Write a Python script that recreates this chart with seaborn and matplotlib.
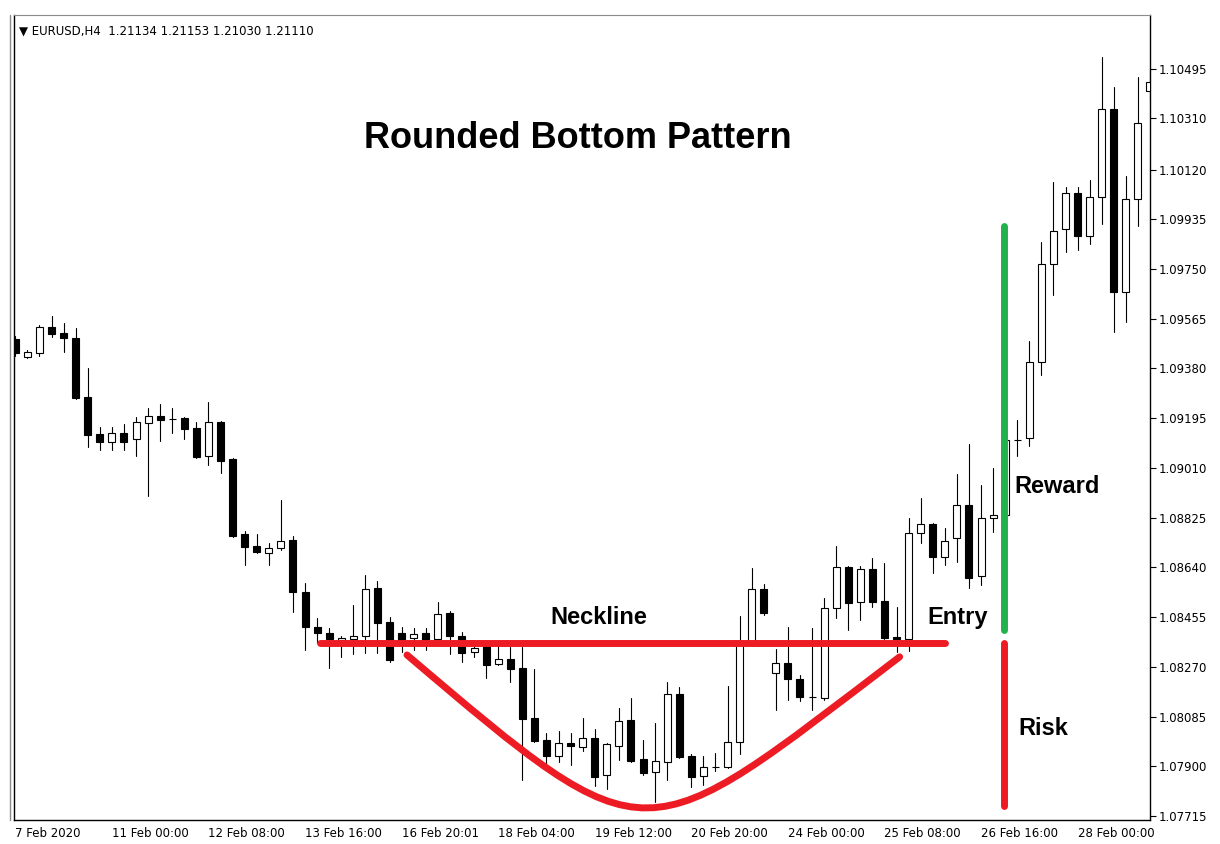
import numpy as np
import pandas as pd
import matplotlib
matplotlib.use("Agg")
import matplotlib.pyplot as plt
import seaborn as sns
from matplotlib.path import Path
from matplotlib.patches import PathPatch

# EURUSD H4 candles
opens = [1.09489, 1.09422, 1.09437, 1.09534, 1.09512, 1.09493, 1.09274, 1.09136, 1.09106, 1.09140,
         1.09117, 1.09177, 1.09203, 1.09192, 1.09196, 1.09158, 1.09054, 1.09181, 1.09043, 1.08764,
         1.08719, 1.08693, 1.08712, 1.08742, 1.08548, 1.08418, 1.08396, 1.08370, 1.08373, 1.08385,
         1.08563, 1.08437, 1.08396, 1.08377, 1.08396, 1.08373, 1.08470, 1.08385, 1.08325, 1.08359,
         1.08280, 1.08299, 1.08266, 1.08080, 1.07998, 1.07938, 1.07987, 1.07972, 1.08005, 1.07868,
         1.07975, 1.08072, 1.07927, 1.07879, 1.07916, 1.08169, 1.07938, 1.07864, 1.07897, 1.07897,
         1.07990, 1.08351, 1.08559, 1.08247, 1.08284, 1.08225, 1.08158, 1.08154, 1.08489, 1.08641,
         1.08511, 1.08634, 1.08515, 1.08381, 1.08373, 1.08768, 1.08801, 1.08678, 1.08749, 1.08872,
         1.08608, 1.08824, 1.08835, 1.09114, 1.09121, 1.09404, 1.09768, 1.09899, 1.10033, 1.09873,
         1.10018, 1.10345, 1.09664, 1.10010, 1.10412]
highs = [1.09501, 1.09448, 1.09541, 1.09575, 1.09549, 1.09530, 1.09382, 1.09162, 1.09162, 1.09173,
         1.09199, 1.09233, 1.09248, 1.09233, 1.09199, 1.09181, 1.09255, 1.09184, 1.09047, 1.08775,
         1.08764, 1.08731, 1.08891, 1.08757, 1.08582, 1.08452, 1.08414, 1.08385, 1.08500, 1.08611,
         1.08589, 1.08455, 1.08418, 1.08414, 1.08414, 1.08511, 1.08478, 1.08399, 1.08362, 1.08370,
         1.08351, 1.08344, 1.08344, 1.08262, 1.08024, 1.08031, 1.08024, 1.08080, 1.08039, 1.07987,
         1.08117, 1.08154, 1.07998, 1.08061, 1.08213, 1.08195, 1.07946, 1.07938, 1.07949, 1.08199,
         1.08459, 1.08638, 1.08578, 1.08336, 1.08418, 1.08240, 1.08414, 1.08526, 1.08719, 1.08645,
         1.08645, 1.08675, 1.08656, 1.08492, 1.08824, 1.08898, 1.08805, 1.08786, 1.08987, 1.09099,
         1.08946, 1.09010, 1.09129, 1.09188, 1.09482, 1.09850, 1.10073, 1.10055, 1.10055, 1.10081,
         1.10538, 1.10427, 1.10096, 1.10464, 1.10490]
lows = [1.09426, 1.09419, 1.09426, 1.09497, 1.09441, 1.09266, 1.09088, 1.09077, 1.09077, 1.09077,
        1.09054, 1.08905, 1.09110, 1.09140, 1.09117, 1.09047, 1.09021, 1.08991, 1.08753, 1.08649,
        1.08693, 1.08649, 1.08705, 1.08474, 1.08333, 1.08359, 1.08266, 1.08306, 1.08318, 1.08321,
        1.08321, 1.08288, 1.08325, 1.08333, 1.08333, 1.08370, 1.08318, 1.08288, 1.08306, 1.08228,
        1.08277, 1.08213, 1.07849, 1.07990, 1.07905, 1.07916, 1.07905, 1.07957, 1.07827, 1.07815,
        1.07923, 1.07916, 1.07868, 1.07767, 1.07849, 1.07931, 1.07823, 1.07830, 1.07882, 1.07894,
        1.07946, 1.08347, 1.08463, 1.08109, 1.08147, 1.08143, 1.08109, 1.08147, 1.08452, 1.08407,
        1.08444, 1.08492, 1.08373, 1.08325, 1.08329, 1.08731, 1.08619, 1.08649, 1.08660, 1.08563,
        1.08574, 1.08771, 1.08827, 1.09054, 1.09091, 1.09356, 1.09653, 1.09813, 1.09821, 1.09843,
        1.09917, 1.09515, 1.09553, 1.09910, 1.10379]
closes = [1.09437, 1.09441, 1.09534, 1.09508, 1.09493, 1.09270, 1.09132, 1.09106, 1.09140, 1.09106,
          1.09181, 1.09203, 1.09188, 1.09192, 1.09155, 1.09050, 1.09181, 1.09036, 1.08757, 1.08716,
          1.08697, 1.08712, 1.08738, 1.08548, 1.08418, 1.08396, 1.08373, 1.08377, 1.08385, 1.08559,
          1.08433, 1.08295, 1.08351, 1.08392, 1.08366, 1.08466, 1.08385, 1.08321, 1.08340, 1.08277,
          1.08299, 1.08262, 1.08076, 1.07994, 1.07938, 1.07987, 1.07975, 1.08005, 1.07860, 1.07983,
          1.08068, 1.07920, 1.07875, 1.07920, 1.08169, 1.07934, 1.07860, 1.07897, 1.07897, 1.07990,
          1.08351, 1.08559, 1.08470, 1.08284, 1.08225, 1.08158, 1.08158, 1.08489, 1.08641, 1.08507,
          1.08634, 1.08511, 1.08377, 1.08373, 1.08768, 1.08801, 1.08678, 1.08738, 1.08872, 1.08600,
          1.08824, 1.08835, 1.09114, 1.09114, 1.09404, 1.09768, 1.09891, 1.10033, 1.09873, 1.10018,
          1.10345, 1.09664, 1.10010, 1.10293, 1.10445]

date_ticks = [0, 8, 16, 24, 32, 40, 48, 56, 64, 72, 80, 88]
date_labels = ["7 Feb 2020", "11 Feb 00:00", "12 Feb 08:00", "13 Feb 16:00", "16 Feb 20:01",
               "18 Feb 04:00", "19 Feb 12:00", "20 Feb 20:00", "24 Feb 00:00", "25 Feb 08:00",
               "26 Feb 16:00", "28 Feb 00:00"]
price_ticks = [1.07715, 1.07900, 1.08085, 1.08270, 1.08455, 1.08640, 1.08825, 1.09010,
               1.09195, 1.09380, 1.09565, 1.09750, 1.09935, 1.10120, 1.10310, 1.10495]

# annotation levels
neckline = 1.08359
neck_span = [25.25, 77.0]
reward_span = [1.08407, 1.09910]
risk_span = [1.07752, 1.08359]
rr_bar = 81.87
bowl_x = [32.45, 52.72, 51.78, 73.26]
bowl_y = [1.08314, 1.07540, 1.07573, 1.08307]

RED = "#ED1C24"
GREEN = "#22B14C"

sns.set_style("white")
plt.rcParams['font.family'] = ['DejaVu Sans']
plt.rcParams['text.color'] = 'black'

df = pd.DataFrame({'bar': np.arange(len(opens)), 'open': opens, 'high': highs,
                   'low': lows, 'close': closes})

fig = plt.figure(figsize=(12.2, 8.44), dpi=100)
ax = fig.add_axes([13.5 / 1220, 24 / 844, (1150 - 13.5) / 1220, (820 - 15) / 844])

# wicks
wicks = df.melt(id_vars='bar', value_vars=['low', 'high'], value_name='price')
sns.lineplot(data=wicks, x='bar', y='price', units='bar', estimator=None, sort=False,
             color='black', lw=0.8, ax=ax, legend=False, zorder=2)

# bodies
up = df['close'] >= df['open']
ax.bar(df['bar'], (df['close'] - df['open']).abs(), bottom=np.minimum(df['open'], df['close']),
       width=0.58, color=np.where(up, 'white', 'black'), edgecolor='black', linewidth=0.8, zorder=3)

ax.set_xlim(-0.15, 94.0)
ax.set_ylim(1.07700, 1.10695)

# right price scale
ax.yaxis.tick_right()
ax.set_yticks(price_ticks)
ax.set_yticklabels([f"{v:.5f}" for v in price_ticks])
ax.set_xticks(date_ticks)
ax.set_xticklabels(date_labels, ha='left')
ax.tick_params(axis='both', direction='out', length=4, width=0.8, colors='black',
               labelsize=8.5, pad=2)
ax.tick_params(axis='x', pad=1)
ax.set_xlabel('')
ax.set_ylabel('')
for side in ['left', 'right', 'bottom']:
    ax.spines[side].set_color('black')
    ax.spines[side].set_linewidth(1)
ax.spines['top'].set_color('#8c8c8c')
ax.grid(False)

# pattern drawing
ax.plot(neck_span, [neckline, neckline], color=RED, lw=5, solid_capstyle='round', zorder=5)
bowl = Path(list(zip(bowl_x, bowl_y)), [Path.MOVETO, Path.CURVE4, Path.CURVE4, Path.CURVE4])
patch = PathPatch(bowl, facecolor='none', edgecolor=RED, lw=5, zorder=5)
patch.set_capstyle('round')
ax.add_patch(patch)
ax.plot([rr_bar, rr_bar], reward_span, color=GREEN, lw=5, solid_capstyle='round', zorder=5)
ax.plot([rr_bar, rr_bar], risk_span, color=RED, lw=5, solid_capstyle='round', zorder=5)

bold = dict(family=['Liberation Sans', 'DejaVu Sans'], fontweight='bold', color='black', zorder=6)
ax.text(48.3, 1.08452, "Neckline", fontsize=17, ha='center', va='center', **bold)
ax.text(78.1, 1.08452, "Entry", fontsize=17, ha='center', va='center', **bold)
ax.text(82.8, 1.08939, "Reward", fontsize=17, ha='left', va='center', **bold)
ax.text(83.1, 1.08039, "Risk", fontsize=17, ha='left', va='center', **bold)

fig.text(578 / 1220, 1 - 138 / 844, "Rounded Bottom Pattern", fontsize=26, ha='center',
         va='center', family=['Liberation Sans', 'DejaVu Sans'], fontweight='bold', color='black')
fig.text(19 / 1220, 1 - 31 / 844, "\u25bc EURUSD,H4  1.21134 1.21153 1.21030 1.21110",
         fontsize=8.5, ha='left', va='center', color='black')

# outer frame line on the left
fig.add_artist(plt.Line2D([10 / 1220, 10 / 1220], [24 / 844, 1 - 15 / 844],
                          color='#8c8c8c', lw=1))

fig.savefig("out.png", dpi=100)
